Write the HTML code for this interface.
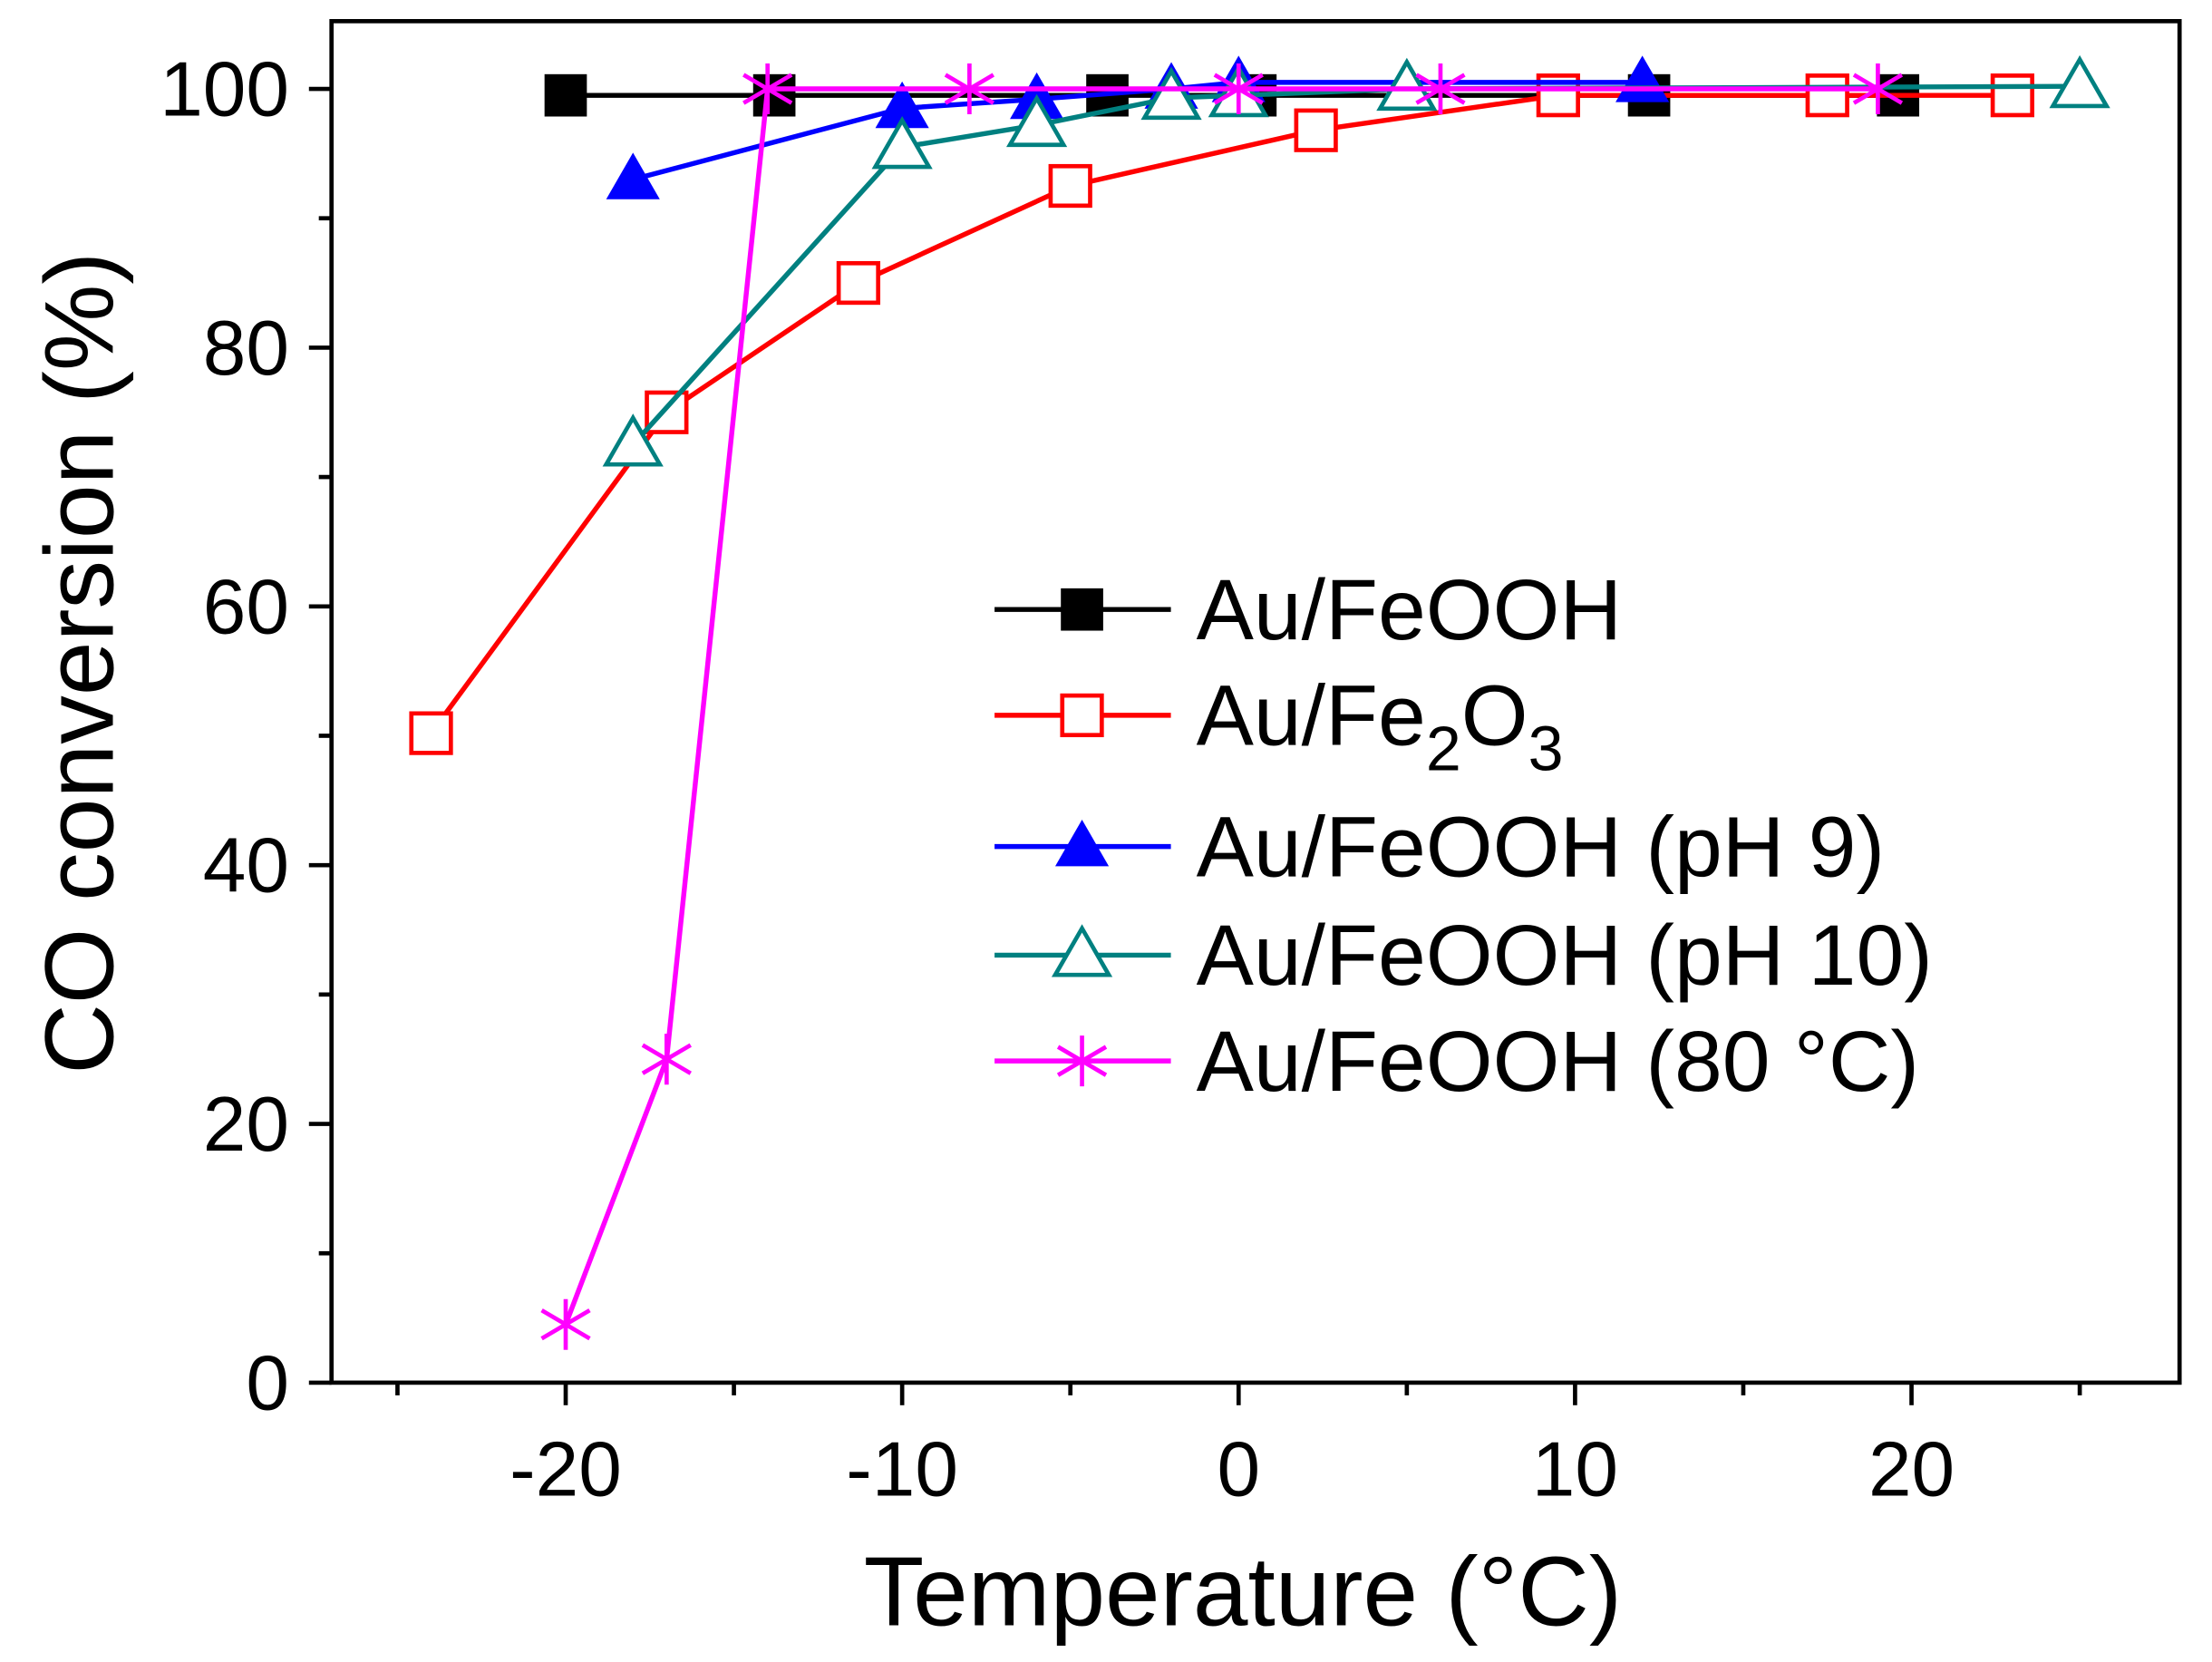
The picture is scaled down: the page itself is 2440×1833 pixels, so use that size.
<!DOCTYPE html>
<html><head><meta charset="utf-8"><style>html,body{margin:0;padding:0;background:#fff}svg{display:block}</style></head>
<body>
<svg width="2440" height="1833" viewBox="0 0 1568 1178" preserveAspectRatio="none" xmlns="http://www.w3.org/2000/svg" font-family="Liberation Sans, sans-serif">
<g id="plot"></g>
</svg>
<script>
const xTicks=[-20,-10,0,10,20];
const xMinor=[-25,-15,-5,5,15,25];
const yTicks=[0,20,40,60,80,100];
const yMinor=[10,30,50,70,90];
const names=["Au/FeOOH","Au/Fe2O3","Au/FeOOH (pH 9)","Au/FeOOH (pH 10)","Au/FeOOH (80 °C)"];
const xs0=[-20,-13.8,-3.9,0.5,12.2,19.6];
const ys0=[99.5,99.5,99.5,99.5,99.5,99.5];
const xs1=[-24,-17,-11.3,-5,2.3,9.5,17.5,23];
const ys1=[50.2,75,85,92.5,96.8,99.5,99.5,99.5];
const xs2=[-18,-10,-6,-2,0,12];
const ys2=[93,98.5,99.2,100,100.5,100.5];
const xs3=[-18,-10,-6,-2,0,5,25];
const ys3=[72.5,95.5,97.2,99.3,99.5,100,100.2];
const xs4=[-20,-17,-14,-8,0,6,19];
const ys4=[4.5,25,100,100,100,100,100];
const NS="http://www.w3.org/2000/svg";
const g=document.getElementById('plot');
const L=235,R=1545,T=15,B=980;
const X=v=>878+(v)*23.85;
const Y=v=>980-v*9.17;
function mk(t,a,p){const e=document.createElementNS(NS,t);for(const k in a)e.setAttribute(k,a[k]);(p||g).appendChild(e);return e;}
let frame=mk('rect',{x:L,y:T,width:R-L,height:B-T,fill:'none',stroke:'#000','stroke-width':3});


xTicks.forEach(v=>{mk('line',{x1:X(v),x2:X(v),y1:B,y2:B+16,stroke:'#000','stroke-width':3});
 const t=mk('text',{x:X(v),y:B+80,'font-size':55,'text-anchor':'middle'});t.textContent=v;
 
 });
xMinor.forEach(v=>mk('line',{x1:X(v),x2:X(v),y1:B,y2:B+9,stroke:'#000','stroke-width':3}));
yTicks.forEach(v=>{mk('line',{x1:L-16,x2:L,y1:Y(v),y2:Y(v),stroke:'#000','stroke-width':3});
 const t=mk('text',{x:L-30,y:Y(v)+19,'font-size':55,'text-anchor':'end'});t.textContent=v;
 
 });
yMinor.forEach(v=>mk('line',{x1:L-9,x2:L,y1:Y(v),y2:Y(v),stroke:'#000','stroke-width':3}));
let xt=mk('text',{x:881,y:1152,'font-size':70,'text-anchor':'middle'});xt.textContent='Temperature (°C)';


let yt=mk('text',{x:0,y:0,'font-size':69,'text-anchor':'middle',transform:'translate(80,470) rotate(-90)'});yt.textContent='CO conversion (%)';


const cols=['#000','#ff0000','#0000ff','#008080','#ff00ff'];
function marker(i,cx,cy,p){
 const c=cols[i];
 if(i===0)mk('rect',{x:cx-15,y:cy-15,width:30,height:30,fill:c},p);
 if(i===1)mk('rect',{x:cx-14,y:cy-14,width:28,height:28,fill:'#fff',stroke:c,'stroke-width':3},p);
 if(i===2)mk('polygon',{points:`${cx},${cy-19} ${cx-19},${cy+14} ${cx+19},${cy+14}`,fill:c},p);
 if(i===3)mk('polygon',{points:`${cx},${cy-19} ${cx-19},${cy+14} ${cx+19},${cy+14}`,fill:'#fff',stroke:c,'stroke-width':3},p);
 if(i===4){[[0,-18,0,18],[-17,-10,17,10],[-17,10,17,-10]].forEach(d=>mk('line',{x1:cx+d[0],y1:cy+d[1],x2:cx+d[2],y2:cy+d[3],stroke:c,'stroke-width':3},p));}
}
const XS=[xs0,xs1,xs2,xs3,xs4],YS=[ys0,ys1,ys2,ys3,ys4];
XS.forEach((xs,i)=>{
 const s=mk('g',{});
 
 
 mk('polyline',{points:xs.map((x,j)=>X(x)+','+Y(YS[i][j])).join(' '),fill:'none',stroke:cols[i],'stroke-width':3.5},s);
 xs.forEach((x,j)=>marker(i,X(x),Y(YS[i][j]),s));
});
const ly=[432,507,600,677,752];
names.forEach((n,i)=>{
 const e=mk('g',{});
 
 
 mk('line',{x1:705,x2:830,y1:ly[i],y2:ly[i],stroke:cols[i],'stroke-width':3.5},e);
 marker(i,767,ly[i],e);
 const t=mk('text',{x:848,y:ly[i]+21,'font-size':61},e);
 if(i===1){t.innerHTML='Au/Fe<tspan dy="18" font-size="45">2</tspan><tspan dy="-18">O</tspan><tspan dy="18" font-size="45">3</tspan>';}
 else t.textContent=n;
});
</script>
</body></html>
